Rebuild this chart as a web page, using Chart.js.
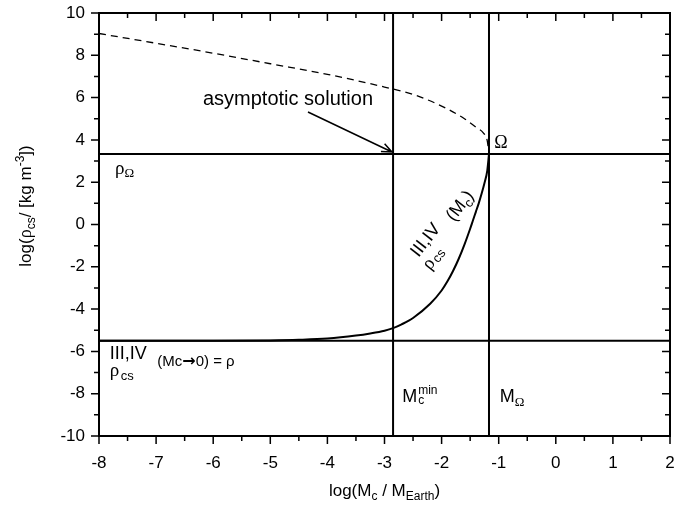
<!DOCTYPE html>
<html>
<head>
<meta charset="utf-8">
<script src="https://cdn.jsdelivr.net/npm/chart.js@4.4.0/dist/chart.umd.min.js"></script>
<style>
html, body { margin: 0; padding: 0; background: #fff; }
</style>
</head>
<body>
<canvas id="chart" width="691" height="508"></canvas>
<script>
// asymptotic solution (dashed)
var asymX = [-8, -7, -6, -5, -4, -3, -2.5, -2, -1.6, -1.4, -1.27, -1.2, -1.17];
var asymY = [9.03, 8.57, 8.1, 7.6, 7.1, 6.5, 6.15, 5.6, 5.0, 4.6, 4.33, 3.95, 3.33];
// rho_cs III,IV (Mc) solid curve
var curveX = [-8, -6, -5, -4.5, -4, -3.5, -3.25, -3, -2.85, -2.7, -2.5, -2.2, -2, -1.9, -1.8, -1.7, -1.6, -1.5, -1.45, -1.4, -1.35, -1.3, -1.25, -1.2, -1.17];
var curveY = [-5.5, -5.5, -5.48, -5.45, -5.39, -5.25, -5.15, -5.02, -4.9, -4.72, -4.42, -3.75, -3.12, -2.7, -2.2, -1.62, -0.95, -0.2, 0.2, 0.6, 1.0, 1.45, 1.95, 2.55, 3.33];
// reference levels
var rhoOmega = 3.33, rhoLow = -5.5;
var mcMin = -2.85, mOmega = -1.17;
var xMin = -8, xMax = 2, yMin = -10, yMax = 10;

var SANS = "'Liberation Sans', Arial, sans-serif";
var SERIF = "'Liberation Serif', 'Times New Roman', serif";
function f(size, fam) { return size + 'px ' + (fam || SANS); }

function pts(xs, ys) {
    return xs.map(function(x, i) { return {x: x, y: ys[i]}; });
}

// runs of text: [text, font, dy]
function rich(ctx, x, y, runs, align) {
    var w = 0;
    runs.forEach(function(r) { ctx.font = r[1]; w += ctx.measureText(r[0]).width; });
    if (align === 'center') x -= w / 2;
    runs.forEach(function(r) {
        ctx.font = r[1];
        ctx.fillText(r[0], x, y + (r[2] || 0));
        x += ctx.measureText(r[0]).width;
    });
}

var decor = {
    id: 'decor',
    afterDraw: function(chart) {
        var ctx = chart.ctx, a = chart.chartArea;
        var xs = chart.scales.x, ys = chart.scales.y;
        function px(v) { return xs.getPixelForValue(v); }
        function py(v) { return ys.getPixelForValue(v); }
        ctx.save();
        ctx.strokeStyle = '#000';
        ctx.fillStyle = '#000';
        ctx.textBaseline = 'alphabetic';
        ctx.textAlign = 'left';

        // ticks: outside on bottom/left, inside on top/right
        ctx.lineWidth = 1.5;
        ctx.beginPath();
        for (var v = xMin; v <= xMax + 1e-9; v += 0.5) {
            var L = Math.abs(v - Math.round(v)) < 1e-9 ? 8 : 5;
            var X = px(v);
            ctx.moveTo(X, a.bottom); ctx.lineTo(X, a.bottom + L);
            ctx.moveTo(X, a.top); ctx.lineTo(X, a.top + L);
        }
        for (var w = yMin; w <= yMax; w += 1) {
            var L2 = w % 2 === 0 ? 8 : 5;
            var Y = py(w);
            ctx.moveTo(a.left, Y); ctx.lineTo(a.left - L2, Y);
            ctx.moveTo(a.right, Y); ctx.lineTo(a.right - L2, Y);
        }
        ctx.stroke();

        ctx.lineWidth = 2;
        ctx.strokeRect(a.left, a.top, a.right - a.left, a.bottom - a.top);

        // arrow to the asymptotic solution
        var x0 = px(-4.34), y0 = py(5.32), x1 = px(-2.87), y1 = py(3.43);
        var ang = Math.atan2(y1 - y0, x1 - x0);
        ctx.lineWidth = 1.5;
        ctx.beginPath();
        ctx.moveTo(x0, y0); ctx.lineTo(x1, y1);
        ctx.moveTo(x1 - 11 * Math.cos(ang - 0.4), y1 - 11 * Math.sin(ang - 0.4));
        ctx.lineTo(x1, y1);
        ctx.lineTo(x1 - 11 * Math.cos(ang + 0.4), y1 - 11 * Math.sin(ang + 0.4));
        ctx.stroke();

        ctx.font = f(20);
        ctx.fillText('asymptotic solution', px(-6.18), py(5.65));

        ctx.font = f(18, SERIF);
        ctx.fillText('Ω', px(-1.08), py(3.62));

        rich(ctx, px(-7.72), py(2.39), [['ρ', f(19, SERIF)], ['Ω', f(13, SERIF), 3]]);

        // bottom-left label
        ctx.font = f(18);
        ctx.fillText('III,IV', px(-7.81), py(-6.36));
        ctx.font = f(19, SERIF);
        ctx.fillText('ρ', px(-7.81), py(-7.16));
        ctx.font = f(13);
        ctx.fillText('cs', px(-7.81) + 11, py(-7.16) + 4);
        rich(ctx, px(-6.98), py(-6.69), [['(Mc', f(15)], ['\u2192', "bold 16px 'DejaVu Sans', sans-serif"], ['0) = ρ', f(15)]]);

        // M_c^min and M_Omega
        var mx = px(-2.69), my = py(-8.39);
        ctx.font = f(18);
        ctx.fillText('M', mx, my);
        var mw = ctx.measureText('M').width;
        ctx.font = f(12);
        ctx.fillText('min', mx + mw + 1, my - 8);
        ctx.fillText('c', mx + mw + 1, my + 2);
        rich(ctx, px(-0.98), my, [['M', f(18)], ['Ω', f(13, SERIF), 4]]);

        // rotated curve label
        ctx.save();
        ctx.translate(px(-2.406), py(-1.584));
        ctx.rotate(-52 * Math.PI / 180);
        ctx.font = f(18);
        ctx.fillText('III,IV', 0, 0);
        ctx.font = f(19, SERIF);
        ctx.fillText('ρ', -3, 17);
        ctx.font = f(13);
        ctx.fillText('cs', 8, 19);
        rich(ctx, 50, 6, [['(M', f(18)], ['c', f(13), 4], [')', f(18)]]);
        ctx.restore();

        // axis titles
        rich(ctx, (a.left + a.right) / 2, 496, [['log(M', f(17)], ['c', f(12), 4], [' / M', f(17)], ['Earth', f(12), 4], [')', f(17)]], 'center');
        ctx.save();
        ctx.translate(31, 206);
        ctx.rotate(-Math.PI / 2);
        rich(ctx, 0, 0, [['log(', f(17)], ['ρ', f(18, SERIF)], ['cs', f(12), 4], ['/ [kg m', f(17)], ['-3', f(12), -7], ['])', f(17)]], 'center');
        ctx.restore();

        ctx.restore();
    }
};

var hiddenGrid = {display: true, drawOnChartArea: false, drawTicks: true, color: 'rgba(0,0,0,0)'};

var ctx = document.getElementById('chart').getContext('2d');
var chart = new Chart(ctx, {
    type: 'scatter',
    data: {
        datasets: [
            {data: pts(asymX, asymY), showLine: true, borderColor: '#000', borderWidth: 1.3, borderDash: [7, 5], pointRadius: 0, cubicInterpolationMode: 'monotone'},
            {data: pts(curveX, curveY), showLine: true, borderColor: '#000', borderWidth: 2, pointRadius: 0, cubicInterpolationMode: 'monotone'},
            {data: [{x: xMin, y: rhoOmega}, {x: xMax, y: rhoOmega}], showLine: true, borderColor: '#000', borderWidth: 2, pointRadius: 0},
            {data: [{x: xMin, y: rhoLow}, {x: xMax, y: rhoLow}], showLine: true, borderColor: '#000', borderWidth: 2, pointRadius: 0},
            {data: [{x: mcMin, y: yMin}, {x: mcMin, y: yMax}], showLine: true, borderColor: '#000', borderWidth: 2, pointRadius: 0},
            {data: [{x: mOmega, y: yMin}, {x: mOmega, y: yMax}], showLine: true, borderColor: '#000', borderWidth: 2, pointRadius: 0}
        ]
    },
    options: {
        responsive: false,
        animation: false,
        devicePixelRatio: 1,
        layout: {padding: {top: 13, right: 21, left: 0, bottom: 0}},
        plugins: {legend: {display: false}, tooltip: {enabled: false}},
        scales: {
            x: {
                type: 'linear', min: xMin, max: xMax,
                grid: Object.assign({tickLength: 15}, hiddenGrid),
                border: {display: false},
                ticks: {stepSize: 1, padding: 2, color: '#000', font: {family: SANS, size: 17}},
                afterFit: function(s) { s.height = 72; }
            },
            y: {
                type: 'linear', min: yMin, max: yMax,
                grid: Object.assign({tickLength: 12}, hiddenGrid),
                border: {display: false},
                ticks: {stepSize: 2, padding: 2, color: '#000', font: {family: SANS, size: 17}},
                afterFit: function(s) { s.width = 99; }
            }
        }
    },
    plugins: [decor]
});
</script>
</body>
</html>
